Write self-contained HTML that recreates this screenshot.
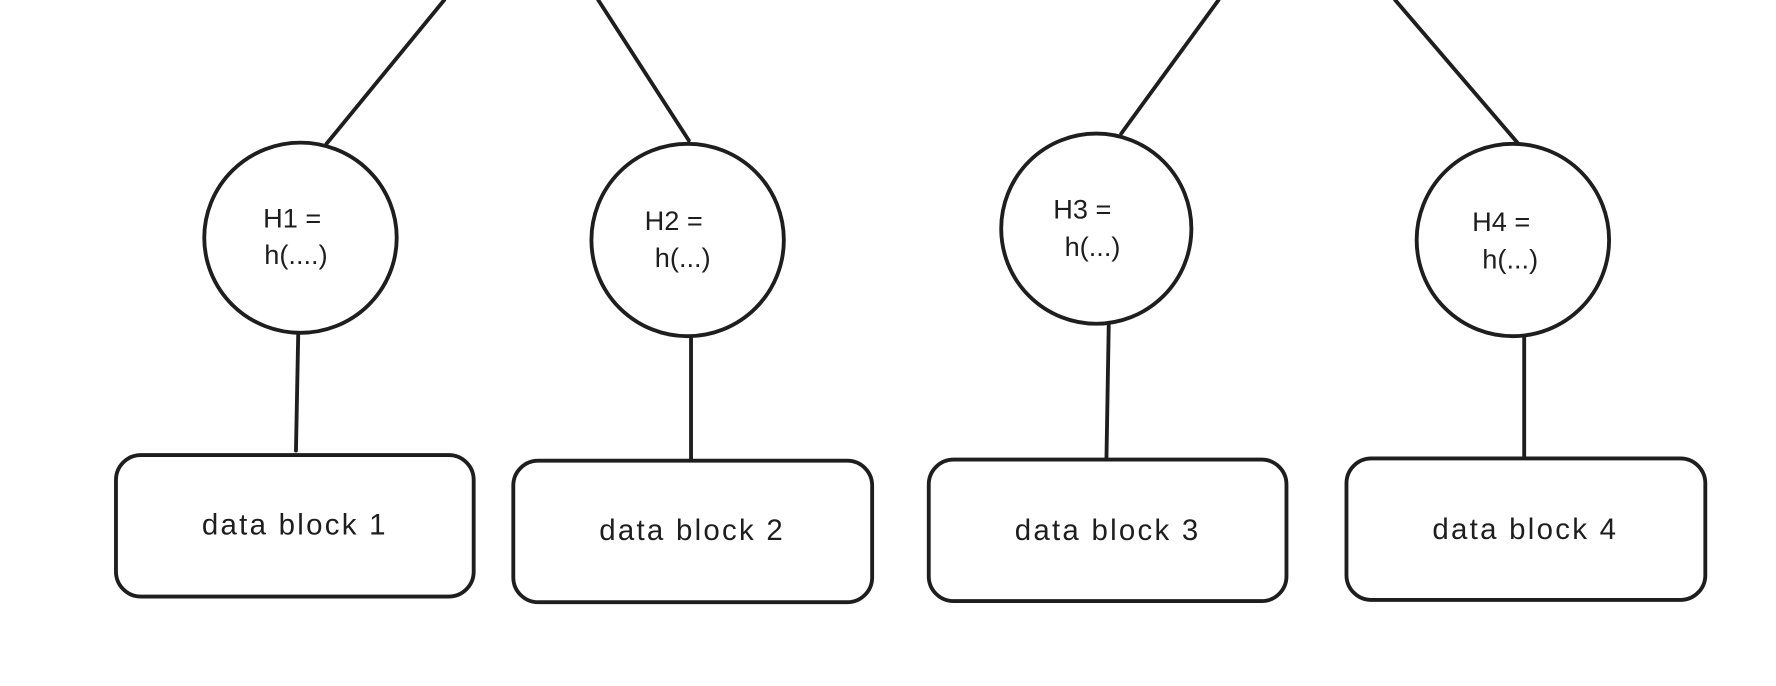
<!DOCTYPE html>
<html><head><meta charset="utf-8"><style>
html,body{margin:0;padding:0;background:#fff;width:1776px;height:686px;overflow:hidden}
svg{display:block}
text{font-family:"Liberation Sans","DejaVu Sans",sans-serif;fill:#1e1e1e}
</style></head><body>
<svg width="1776" height="686" viewBox="0 0 1568 606" xmlns="http://www.w3.org/2000/svg">
<g stroke="#1e1e1e" stroke-width="3.4" fill="none" stroke-linecap="round">
<line x1="392" y1="0" x2="288" y2="127"/>
<line x1="528" y1="0" x2="608" y2="124"/>
<line x1="1076" y1="0" x2="990" y2="118"/>
<line x1="1232" y1="0" x2="1340" y2="126"/>
<ellipse cx="265" cy="210" rx="85" ry="84"/>
<ellipse cx="607" cy="212" rx="85" ry="85"/>
<ellipse cx="968" cy="202" rx="84" ry="84"/>
<ellipse cx="1336" cy="212" rx="85" ry="85"/>
<line x1="263" y1="295" x2="261" y2="398"/>
<line x1="610" y1="298" x2="610" y2="406"/>
<line x1="979" y1="287" x2="977" y2="404"/>
<line x1="1346" y1="298" x2="1346" y2="404"/>
<rect x="102" y="402" width="316" height="125" rx="22"/>
<rect x="453" y="407" width="317" height="125" rx="22"/>
<rect x="820" y="406" width="316" height="125" rx="22"/>
<rect x="1189" y="405" width="317" height="125" rx="22"/>
</g>
<g font-size="24">
<text x="232" y="201">H1 =</text>
<text x="233" y="233">h(....)</text>
<text x="569" y="203">H2 =</text>
<text x="578" y="236">h(...)</text>
<text x="930" y="193">H3 =</text>
<text x="940" y="226">h(...)</text>
<text x="1300" y="204">H4 =</text>
<text x="1309" y="237">h(...)</text>
</g>
<g font-size="26" text-anchor="middle" letter-spacing="2">
<text x="260" y="472">data block 1</text>
<text x="611" y="477">data block 2</text>
<text x="978" y="477">data block 3</text>
<text x="1347" y="476">data block 4</text>
</g>
</svg>
</body></html>
